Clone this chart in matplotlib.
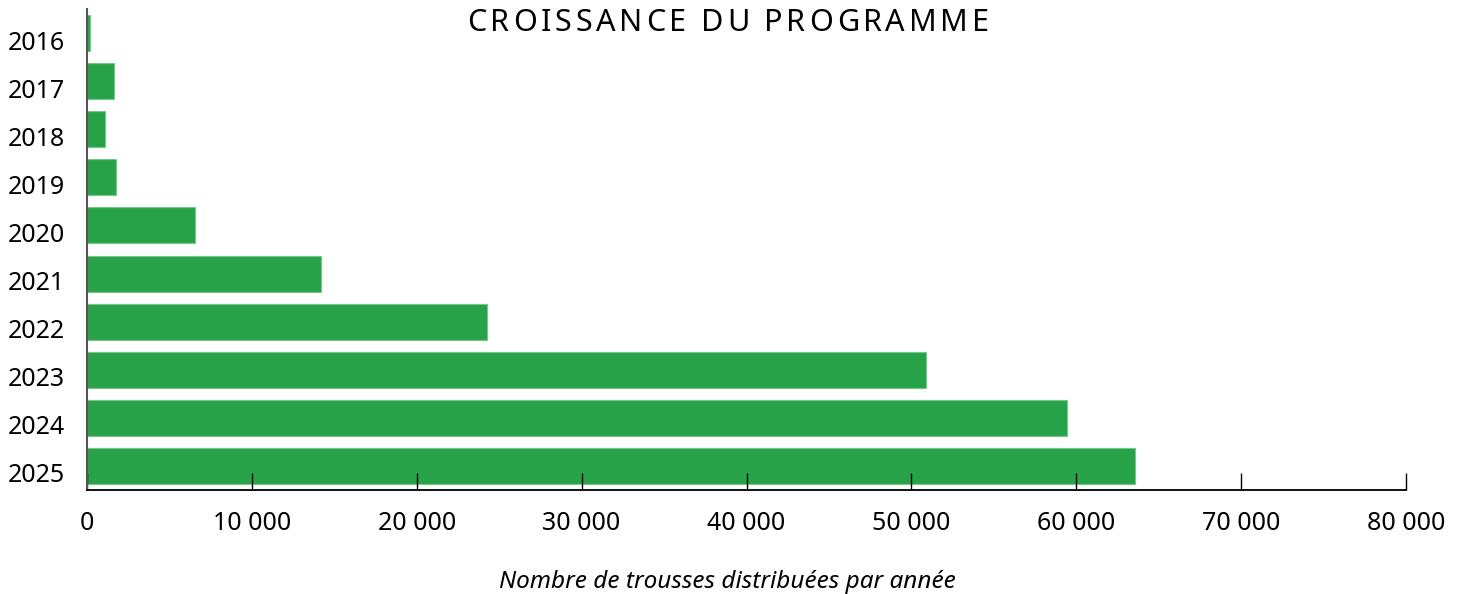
import matplotlib
matplotlib.use("Agg")
import matplotlib.pyplot as plt
import matplotlib.transforms as mtransforms
from matplotlib.ticker import FuncFormatter, MultipleLocator

plt.rcParams['font.family'] = ['Noto Sans', 'DejaVu Sans']

years = ["2016", "2017", "2018", "2019", "2020", "2021", "2022", "2023", "2024", "2025"]
kits = [170, 1640, 1100, 1760, 6560, 14200, 24250, 50860, 59440, 63580]
title = "CROISSANCE DU PROGRAMME"
xlabel = "Nombre de trousses distribuées par année"

W, H = 1465, 594
fig = plt.figure(figsize=(W / 100, H / 100), dpi=100)
ax = fig.add_axes([87 / W, (H - 490) / H, 1319 / W, 481 / H])

ypos = list(range(len(years)))
ax.barh(ypos, kits, height=0.75, color='#27a249', edgecolor='#74c98a', linewidth=0.8)
ax.set_ylim(len(years) - 0.5, -0.5)
ax.set_xlim(0, 80000)
ax.set_yticks(ypos)
ax.set_yticklabels(years, fontsize=18)
ax.tick_params(axis='y', length=0, pad=16)
offset = mtransforms.ScaledTranslation(0, -7 / 100, fig.dpi_scale_trans)
for lbl in ax.get_yticklabels():
    lbl.set_transform(lbl.get_transform() + offset)

ax.xaxis.set_major_locator(MultipleLocator(10000))
ax.xaxis.set_major_formatter(FuncFormatter(lambda v, p: f"{int(v):,}".replace(",", " ")))
ax.tick_params(axis='x', direction='in', length=12, width=1, labelsize=18, pad=15, color='black')

for s in ['top', 'right']:
    ax.spines[s].set_visible(False)
ax.spines['left'].set_color('#555555')
ax.spines['left'].set_linewidth(1.5)
ax.spines['bottom'].set_color('black')
ax.spines['bottom'].set_linewidth(1.3)

ax.set_xlabel(xlabel, fontsize=17.5, style='italic', va='center')
ax.xaxis.set_label_coords(727 / W, 1 - 582 / H, transform=fig.transFigure)

# letter-spaced title
fig.canvas.draw()
renderer = fig.canvas.get_renderer()
spacing = 3.7
widths = []
for ch in title:
    t = fig.text(0, 0, ch if ch != " " else "n", fontsize=22)
    w = t.get_window_extent(renderer).width
    if ch == " ":
        w *= 0.4
    widths.append(w)
    t.remove()
total = sum(widths) + spacing * (len(title) - 1)
x = 728 - total / 2
for ch, w in zip(title, widths):
    fig.text(x / W, 1 - 23 / H, ch, fontsize=22, ha='left', va='center')
    x += w + spacing

fig.savefig("out.png", dpi=100)
